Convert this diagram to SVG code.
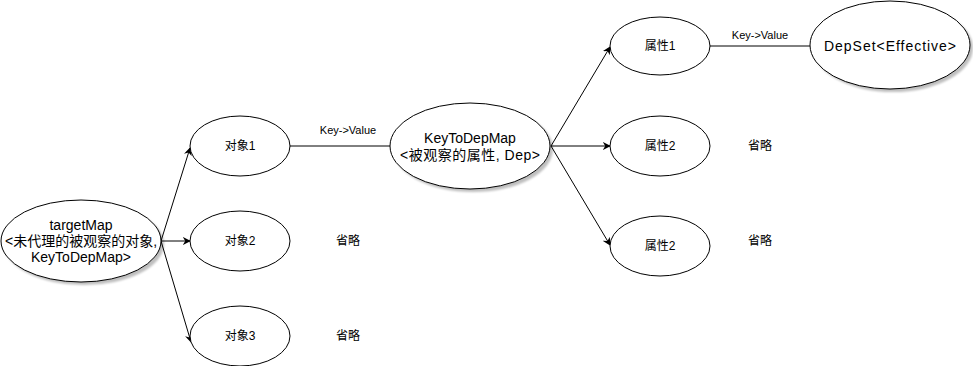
<svg xmlns="http://www.w3.org/2000/svg" width="973" height="366" viewBox="0 0 973 366">
<style>
  .node ellipse { fill: #ffffff; stroke: #000000; stroke-width: 1; }
  .big { font-family: "Liberation Sans", "Noto Sans CJK SC", sans-serif; font-size: 14px; fill: #000; text-anchor: middle; }
  .small { font-family: "Liberation Sans", "Noto Sans CJK SC", sans-serif; font-size: 12px; fill: #000; text-anchor: middle; }
  .label { font-family: "Liberation Sans", "Noto Sans CJK SC", sans-serif; font-size: 11px; fill: #000; text-anchor: middle; }
  .edge { stroke: #000; stroke-width: 1; fill: none; }
</style>
<defs>
  <marker id="arrow" viewBox="0 0 10 10" refX="9" refY="5" markerWidth="8" markerHeight="8" markerUnits="userSpaceOnUse" orient="auto">
    <path d="M0,0 L10,5 L0,10 L3,5 Z" fill="#000"/>
  </marker>
  <filter id="blur" x="-10%" y="-10%" width="130%" height="130%"><feGaussianBlur stdDeviation="1"/></filter>
</defs>
<rect width="973" height="366" fill="#ffffff"/>

<g id="connectors">
  <path class="edge" d="M161,241 L190,148" marker-end="url(#arrow)"/>
  <path class="edge" d="M161,241 L190,241" marker-end="url(#arrow)"/>
  <path class="edge" d="M161,241 L191,342" marker-end="url(#arrow)"/>
  <path class="edge" d="M290,146 L390,146"/>
  <text class="label" x="348" y="134">Key-&gt;Value</text>
  <path class="edge" d="M551,146 L610,47" marker-end="url(#arrow)"/>
  <path class="edge" d="M551,146 L610,146" marker-end="url(#arrow)"/>
  <path class="edge" d="M551,146 L610,245" marker-end="url(#arrow)"/>
  <path class="edge" d="M710,46 L810,46"/>
  <text class="label" x="760" y="39">Key-&gt;Value</text>
</g>

<g id="targetMap" class="node">
  <ellipse cx="84" cy="244" rx="80" ry="41" filter="url(#blur)" style="fill:#000;stroke:none;opacity:0.25"/>
  <ellipse cx="81" cy="241" rx="80" ry="41"/>
  <text class="big" x="81" y="230">targetMap</text>
  <text class="big" x="81" y="246">&lt;未代理的被观察的对象,</text>
  <text class="big" x="81" y="262">KeyToDepMap&gt;</text>
</g>

<g id="obj1" class="node">
  <ellipse cx="240" cy="146" rx="50" ry="30"/>
  <text class="small" x="240" y="150">对象1</text>
</g>
<g id="obj2" class="node">
  <ellipse cx="240" cy="241" rx="50" ry="30"/>
  <text class="small" x="240" y="245">对象2</text>
</g>
<g id="obj3" class="node">
  <ellipse cx="240" cy="336" rx="50" ry="30"/>
  <text class="small" x="240" y="340">对象3</text>
</g>
<g id="omit1"><text class="small" x="348" y="245">省略</text></g>
<g id="omit2"><text class="small" x="348" y="340">省略</text></g>

<g id="keyToDepMap" class="node">
  <ellipse cx="473" cy="149" rx="80" ry="43" filter="url(#blur)" style="fill:#000;stroke:none;opacity:0.25"/>
  <ellipse cx="470" cy="146" rx="80" ry="43"/>
  <text class="big" x="470" y="143">KeyToDepMap</text>
  <text class="big" x="470" y="160" textLength="140">&lt;被观察的属性, Dep&gt;</text>
</g>

<g id="prop1" class="node">
  <ellipse cx="660" cy="46" rx="50" ry="29"/>
  <text class="small" x="660" y="50">属性1</text>
</g>
<g id="prop2a" class="node">
  <ellipse cx="660" cy="146" rx="50" ry="30"/>
  <text class="small" x="660" y="150">属性2</text>
</g>
<g id="prop2b" class="node">
  <ellipse cx="660" cy="246" rx="50" ry="30"/>
  <text class="small" x="660" y="250">属性2</text>
</g>
<g id="omit3"><text class="small" x="760" y="150">省略</text></g>
<g id="omit4"><text class="small" x="760" y="245">省略</text></g>

<g id="depSet" class="node">
  <ellipse cx="893" cy="48" rx="80" ry="44" filter="url(#blur)" style="fill:#000;stroke:none;opacity:0.25"/>
  <ellipse cx="890" cy="45" rx="80" ry="44"/>
  <text class="big" x="890" y="51" textLength="132">DepSet&lt;Effective&gt;</text>
</g>
</svg>
